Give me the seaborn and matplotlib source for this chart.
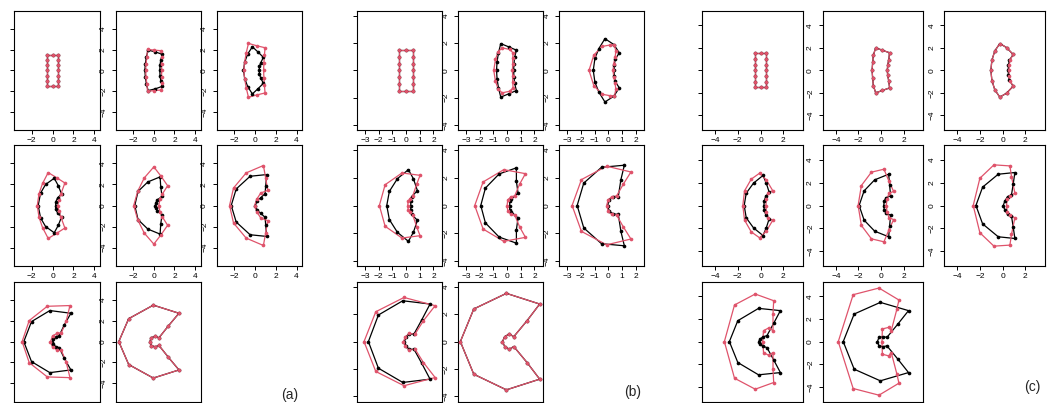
import numpy as np
import pandas as pd
import matplotlib
matplotlib.use('Agg')
import matplotlib.pyplot as plt
import seaborn as sns

## =============================== ##
## outlines: upper half of every shape
## order: outer side (y=0 upwards), top edge (3 pts), inner side (down to y=0)
## the shapes are mirror symmetric about y = 0

rect = [(-0.5, 0), (-0.5, 0.5), (-0.5, 1.0), (-0.5, 1.5), (0.0, 1.5), (0.5, 1.5), (0.5, 1.0), (0.5, 0.5), (0.5, 0)]

a_black = [
	rect,
	[(-0.87, 0), (-0.82, 0.66), (-0.72, 1.32), (-0.55, 1.95), (0.15, 1.78), (0.83, 1.54), (0.68, 1.03), (0.6, 0.52), (0.58, 0)],
	[(-1.12, 0), (-1.0, 0.8), (-0.7, 1.6), (-0.26, 2.27), (0.3, 1.75), (0.8, 1.25), (0.55, 0.75), (0.42, 0.38), (0.4, 0)],
	[(-1.38, 0), (-1.15, 1.18), (-0.67, 2.0), (0.16, 2.59), (0.54, 1.9), (0.86, 1.09), (0.5, 0.75), (0.32, 0.38), (0.29, 0)],
	[(-1.85, 0), (-1.53, 1.34), (-0.58, 2.24), (0.61, 2.72), (0.67, 1.76), (0.8, 0.86), (0.35, 0.55), (0.2, 0.28), (0.14, 0)],
	[(-2.3, 0), (-1.82, 1.57), (-0.48, 2.78), (1.12, 2.94), (1.02, 1.82), (0.96, 1.12), (0.55, 0.75), (0.2, 0.45), (0.02, 0)],
	[(-2.76, 0), (-2.02, 1.92), (-0.26, 2.98), (1.76, 2.72), (1.12, 1.6), (0.64, 0.58), (0.32, 0.48), (0.06, 0.26), (-0.03, 0)],
	[(-3.4, 0), (-2.44, 2.2), (-0.05, 3.5), (2.44, 2.72), (1.41, 1.5), (0.5, 0.37), (0.13, 0.5), (-0.25, 0.38), (-0.38, 0)],
]
a_red = [
	rect,
	[(-0.8, 0), (-0.75, 0.66), (-0.68, 1.32), (-0.61, 2.02), (0.06, 1.95), (0.74, 1.89), (0.76, 1.26), (0.76, 0.63), (0.76, 0)],
	[(-1.1, 0), (-1.0, 0.85), (-0.85, 1.7), (-0.64, 2.6), (0.16, 2.37), (0.96, 2.18), (0.9, 1.45), (0.85, 0.72), (0.82, 0)],
	[(-1.47, 0), (-1.3, 1.12), (-0.96, 2.1), (-0.42, 3.13), (0.38, 2.65), (1.18, 2.14), (0.8, 1.1), (0.6, 0.55), (0.5, 0)],
	[(-1.95, 0), (-1.57, 1.34), (-0.93, 2.62), (0.0, 3.67), (0.7, 2.78), (1.34, 1.88), (0.83, 1.09), (0.6, 0.6), (0.48, 0)],
	[(-2.46, 0), (-2.08, 1.66), (-0.86, 3.1), (0.8, 3.8), (1.02, 2.62), (1.22, 1.44), (0.54, 1.18), (0.16, 0.6), (-0.05, 0)],
	[(-2.92, 0), (-2.24, 2.02), (-0.51, 3.39), (1.67, 3.46), (1.3, 1.95), (0.85, 0.85), (0.45, 0.8), (0.0, 0.55), (-0.2, 0)],
	[(-3.4, 0), (-2.44, 2.2), (-0.05, 3.5), (2.44, 2.72), (1.41, 1.5), (0.5, 0.37), (0.13, 0.5), (-0.25, 0.38), (-0.38, 0)],
]

b_black = [
	rect,
	[(-0.77, 0), (-0.73, 0.63), (-0.63, 1.28), (-0.46, 1.96), (0.12, 1.72), (0.68, 1.48), (0.55, 0.95), (0.5, 0.47), (0.48, 0)],
	[(-1.09, 0), (-0.97, 0.87), (-0.68, 1.6), (-0.24, 2.32), (0.41, 1.89), (0.8, 1.28), (0.5, 0.8), (0.44, 0.39), (0.41, 0)],
	[(-1.41, 0), (-1.22, 1.02), (-0.63, 1.94), (0.17, 2.59), (0.54, 1.92), (0.83, 1.07), (0.41, 0.65), (0.34, 0.36), (0.34, 0)],
	[(-1.92, 0), (-1.58, 1.26), (-0.58, 2.28), (0.68, 2.72), (0.68, 1.75), (0.8, 0.9), (0.32, 0.46), (0.19, 0.29), (0.19, 0)],
	[(-2.26, 0), (-1.78, 1.62), (-0.49, 2.76), (1.17, 2.91), (0.92, 1.87), (0.73, 0.65), (0.36, 0.6), (0.07, 0.41), (-0.05, 0)],
	[(-2.75, 0), (-2.02, 1.94), (-0.24, 2.98), (1.75, 2.74), (1.14, 1.58), (0.58, 0.56), (0.22, 0.56), (0.0, 0.32), (-0.12, 0)],
	[(-3.41, 0), (-2.43, 2.38), (-0.05, 3.52), (2.38, 2.74), (1.46, 1.53), (0.49, 0.36), (0.15, 0.56), (-0.17, 0.36), (-0.34, 0)],
]
b_red = [
	rect,
	[(-0.97, 0), (-0.85, 0.8), (-0.65, 1.36), (-0.36, 1.65), (0.19, 1.53), (0.44, 1.28), (0.41, 0.87), (0.41, 0.45), (0.39, 0)],
	[(-1.4, 0), (-1.05, 1.12), (-0.45, 1.75), (0.1, 1.85), (0.45, 1.87), (0.55, 1.4), (0.5, 0.95), (0.4, 0.5), (0.35, 0)],
	[(-1.95, 0), (-1.53, 1.5), (-0.3, 2.35), (1.02, 2.18), (0.78, 1.55), (0.49, 0.7), (0.29, 0.5), (0.15, 0.3), (0.12, 0)],
	[(-2.36, 0), (-1.75, 1.7), (-0.24, 2.59), (1.34, 2.3), (0.92, 1.55), (0.56, 0.7), (0.27, 0.62), (0.05, 0.4), (0.0, 0)],
	[(-2.63, 0), (-1.95, 1.87), (-0.12, 2.84), (1.65, 2.42), (1.1, 1.55), (0.61, 0.7), (0.24, 0.62), (0.0, 0.41), (-0.12, 0)],
	[(-3.07, 0), (-2.21, 2.18), (-0.15, 3.22), (2.12, 2.62), (1.27, 1.53), (0.66, 0.56), (0.22, 0.6), (-0.07, 0.32), (-0.19, 0)],
	[(-3.41, 0), (-2.43, 2.38), (-0.05, 3.52), (2.38, 2.74), (1.46, 1.53), (0.49, 0.36), (0.15, 0.56), (-0.17, 0.36), (-0.34, 0)],
]

c_black = [
	rect,
	[(-0.79, 0), (-0.74, 0.7), (-0.68, 1.35), (-0.47, 2.0), (0.12, 1.79), (0.76, 1.56), (0.68, 0.91), (0.59, 0.44), (0.56, 0)],
	[(-1.03, 0), (-0.94, 0.91), (-0.68, 1.73), (-0.24, 2.38), (0.35, 2.03), (0.94, 1.41), (0.6, 0.88), (0.52, 0.45), (0.5, 0)],
	[(-1.44, 0), (-1.26, 1.08), (-0.62, 1.96), (0.21, 2.63), (0.5, 1.96), (0.76, 1.14), (0.45, 0.8), (0.32, 0.41), (0.29, 0)],
	[(-1.94, 0), (-1.5, 1.28), (-0.56, 2.25), (0.68, 2.74), (0.76, 1.81), (0.85, 0.85), (0.45, 0.68), (0.29, 0.41), (0.24, 0)],
	[(-2.35, 0), (-1.76, 1.61), (-0.38, 2.74), (1.09, 2.89), (0.94, 1.87), (0.79, 0.93), (0.44, 0.78), (0.21, 0.41), (0.06, 0)],
	[(-2.74, 0), (-2.0, 1.85), (-0.18, 2.94), (1.74, 2.74), (1.15, 1.62), (0.56, 0.53), (0.21, 0.42), (-0.03, 0.24), (-0.18, 0)],
	[(-3.35, 0), (-2.38, 2.44), (-0.06, 3.47), (2.44, 2.74), (1.5, 1.56), (0.53, 0.38), (0.18, 0.44), (-0.18, 0.38), (-0.32, 0)],
]
c_red = [
	rect,
	[(-0.79, 0), (-0.74, 0.7), (-0.68, 1.35), (-0.47, 2.0), (0.12, 1.79), (0.76, 1.56), (0.68, 0.91), (0.59, 0.44), (0.56, 0)],
	[(-1.03, 0), (-0.94, 0.91), (-0.68, 1.73), (-0.24, 2.38), (0.35, 2.03), (0.94, 1.41), (0.65, 0.91), (0.59, 0.47), (0.56, 0)],
	[(-1.56, 0), (-1.41, 1.28), (-0.82, 2.31), (-0.09, 2.83), (0.5, 2.25), (1.06, 1.31), (0.65, 1.08), (0.5, 0.55), (0.47, 0)],
	[(-2.03, 0), (-1.74, 1.75), (-0.85, 2.92), (0.26, 3.18), (0.68, 2.19), (1.12, 1.23), (0.71, 1.08), (0.53, 0.55), (0.47, 0)],
	[(-2.59, 0), (-2.0, 2.39), (-0.76, 3.56), (0.65, 3.47), (0.79, 2.54), (1.09, 1.08), (0.65, 0.85), (0.41, 0.58), (0.35, 0)],
	[(-3.18, 0), (-2.29, 3.24), (-0.47, 4.21), (1.15, 3.62), (1.09, 2.44), (1.09, 0.97), (0.71, 1.21), (0.26, 0.97), (0.18, 0)],
	[(-3.79, 0), (-2.47, 4.15), (-0.18, 4.74), (1.59, 3.68), (1.41, 2.88), (0.91, 0.97), (0.68, 1.26), (0.12, 1.12), (0.09, 0)],
]

## axis settings per group
group_labels = ['(a)', '(b)', '(c)']
group_xlim = [(-3.7, 4.55), (-3.56, 2.6), (-5.17, 3.75)]
group_ylim = [(-5.75, 5.75), (-4.37, 4.37), (-5.3, 5.3)]
group_xticks = [[-2, 0, 2, 4], [-3, -2, -1, 0, 1, 2], [-4, -2, 0, 2]]
yticks = [-4, -2, 0, 2, 4]

## =============================== ##
## layout in pixels

W, H = 1054, 403
col_px = [
	[(14, 100), (115.7, 200.7), (216.7, 302.3)],
	[(357.3, 441.7), (458.3, 542.7), (559.3, 644)],
	[(701.7, 803.3), (822.7, 923.3), (944, 1045)],
]
row_px = [(10.7, 130), (145, 266), (281.7, 401.5)]
label_px = [(290, 395), (633, 392), (1032, 387)]

BLACK = '#000000'
RED = '#DF536B'

sns.set_style('ticks')
plt.rcParams['font.family'] = ['Liberation Sans', 'DejaVu Sans']


def full_outline(half):
	lower = [(x, -y) for x, y in reversed(half[1:-1])]
	return half + lower


def draw_shape(ax, half, color):
	pts = full_outline(half)
	dfp = pd.DataFrame(pts, columns=['x', 'y'])
	dfl = pd.DataFrame(pts + [pts[0]], columns=['x', 'y'])
	sns.lineplot(data=dfl, x='x', y='y', sort=False, estimator=None, color=color, lw=0.9, ax=ax)
	sns.scatterplot(data=dfp, x='x', y='y', color=color, s=7, linewidth=0, ax=ax, zorder=3)


fig = plt.figure(figsize=(W / 100, H / 100), dpi=100)

groups = [(a_black, a_red), (b_black, b_red), (c_black, c_red)]
for g, (blacks, reds) in enumerate(groups):
	for k in range(8):
		r, c = divmod(k, 3)
		x0, x1 = col_px[g][c]
		y0, y1 = row_px[r]
		ax = fig.add_axes([x0 / W, 1 - y1 / H, (x1 - x0) / W, (y1 - y0) / H])
		draw_shape(ax, blacks[k], BLACK)
		draw_shape(ax, reds[k], RED)
		ax.set_xlim(group_xlim[g])
		ax.set_ylim(group_ylim[g])
		ax.set_xticks(group_xticks[g])
		ax.set_yticks(yticks)
		ax.set_xlabel('')
		ax.set_ylabel('')
		for s in ax.spines.values():
			s.set_linewidth(0.8)
			s.set_color('black')
			s.set_visible(True)
		ax.tick_params(direction='out', length=3.2, width=0.7, labelsize=6, colors='black')
		# bottom row labels fall outside the picture
		ax.tick_params(axis='x', pad=2, labelbottom=(r < 2))
		ax.tick_params(axis='y', pad=3, labelleft=(c > 0))
		for t in ax.get_yticklabels():
			t.set_rotation(90)
			t.set_va('center')
	lx, ly = label_px[g]
	fig.text(lx / W, 1 - ly / H, group_labels[g], ha='center', va='center', fontsize=10)

fig.savefig('out.png', dpi=100)
